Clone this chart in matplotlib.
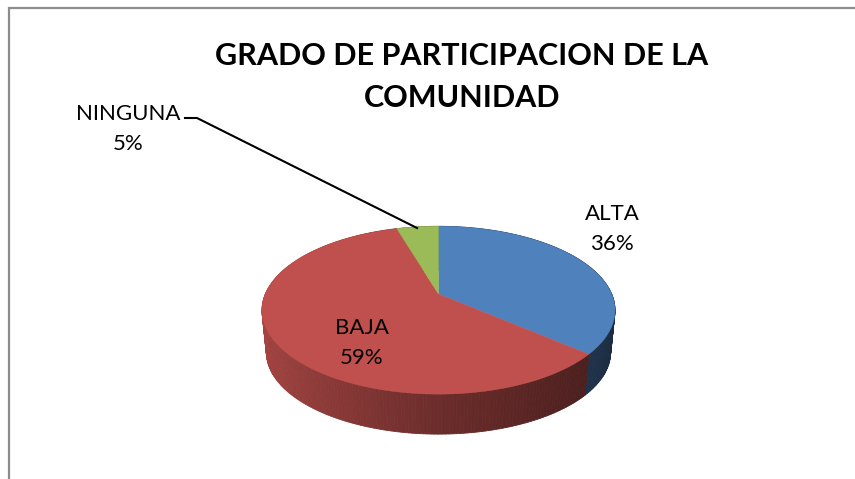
import numpy as np
import matplotlib
matplotlib.use('Agg')
import matplotlib.pyplot as plt

# chart values
labels = ['ALTA', 'BAJA', 'NINGUNA']
values = [36.3, 59.1, 4.6]
top_colors = ['#4f81bd', '#c0504d', '#9bbb59']
title_lines = ['GRADO DE PARTICIPACION DE LA', 'COMUNIDAD']

# where the pie sits, in image pixels
cx, cy = 438.5, 294
a, b, k = 80.8, 173.2, -0.193
depth = 42.5
shrink = 0.975

plt.rcParams['font.family'] = ['Lato', 'DejaVu Sans']


def project(theta, r=1.0, lower=False):
    # theta goes clockwise from 12 o'clock, perspective view of the disc
    X = r * np.sin(theta)
    Y = r * np.cos(theta)
    w = 1 - k * Y
    px = b * X / w
    py = -a * Y / w
    if lower:
        return cx + shrink * px, cy + shrink * py + depth
    return cx + px, cy + py


def shade(color, t):
    # side wall gets darker from left to right
    base = np.array(matplotlib.colors.to_rgb(color))
    return base * np.interp(t, [-1, -0.8, 0, 1], [0.86, 0.8, 0.56, 0.34])


fig = plt.figure(figsize=(8.55, 4.79), dpi=100)
ax = fig.add_axes([0, 0, 1, 1])
ax.set_xlim(0, 855)
ax.set_ylim(479, 0)
ax.axis('off')

# chart frame
ax.plot([9, 9, 855], [479, 8, 8], color='#8c8c8c', lw=1.6, solid_joinstyle='miter')

edges = np.cumsum([0] + values) / sum(values) * 2 * np.pi

# side wall first, the top covers the back part
for i in range(len(values)):
    steps = np.linspace(edges[i], edges[i + 1], max(int(np.degrees(edges[i + 1] - edges[i])), 2))
    for t0, t1 in zip(steps[:-1], steps[1:]):
        x0, y0 = project(t0)
        x1, y1 = project(t1)
        x2, y2 = project(t1, lower=True)
        x3, y3 = project(t0, lower=True)
        c = shade(top_colors[i], np.sin((t0 + t1) / 2))
        ax.fill([x0, x1, x2, x3], [y0, y1, y2, y3], color=c, lw=0.6, zorder=2)

# top of the pie
for i in range(len(values)):
    t = np.linspace(edges[i], edges[i + 1], 200)
    x, y = project(t)
    ax.fill(np.r_[cx, x], np.r_[cy, y], color=top_colors[i], lw=0.3, zorder=3)

# leader line of the small slice
ax.plot([185, 197, 417], [118, 118, 228], color='black', lw=1.5, zorder=4)

ax.text(462, 56, title_lines[0], fontsize=22, fontweight='bold', ha='center', va='center')
ax.text(462, 98, title_lines[1], fontsize=22, fontweight='bold', ha='center', va='center')

label_pos = [(612, 229), (362, 343), (128, 129)]
for name, val, (tx, ty) in zip(labels, values, label_pos):
    ax.text(tx, ty, f'{name}\n{round(val)}%', fontsize=16, ha='center', va='center', linespacing=1.68, zorder=5)

fig.savefig('out.png', dpi=100)
